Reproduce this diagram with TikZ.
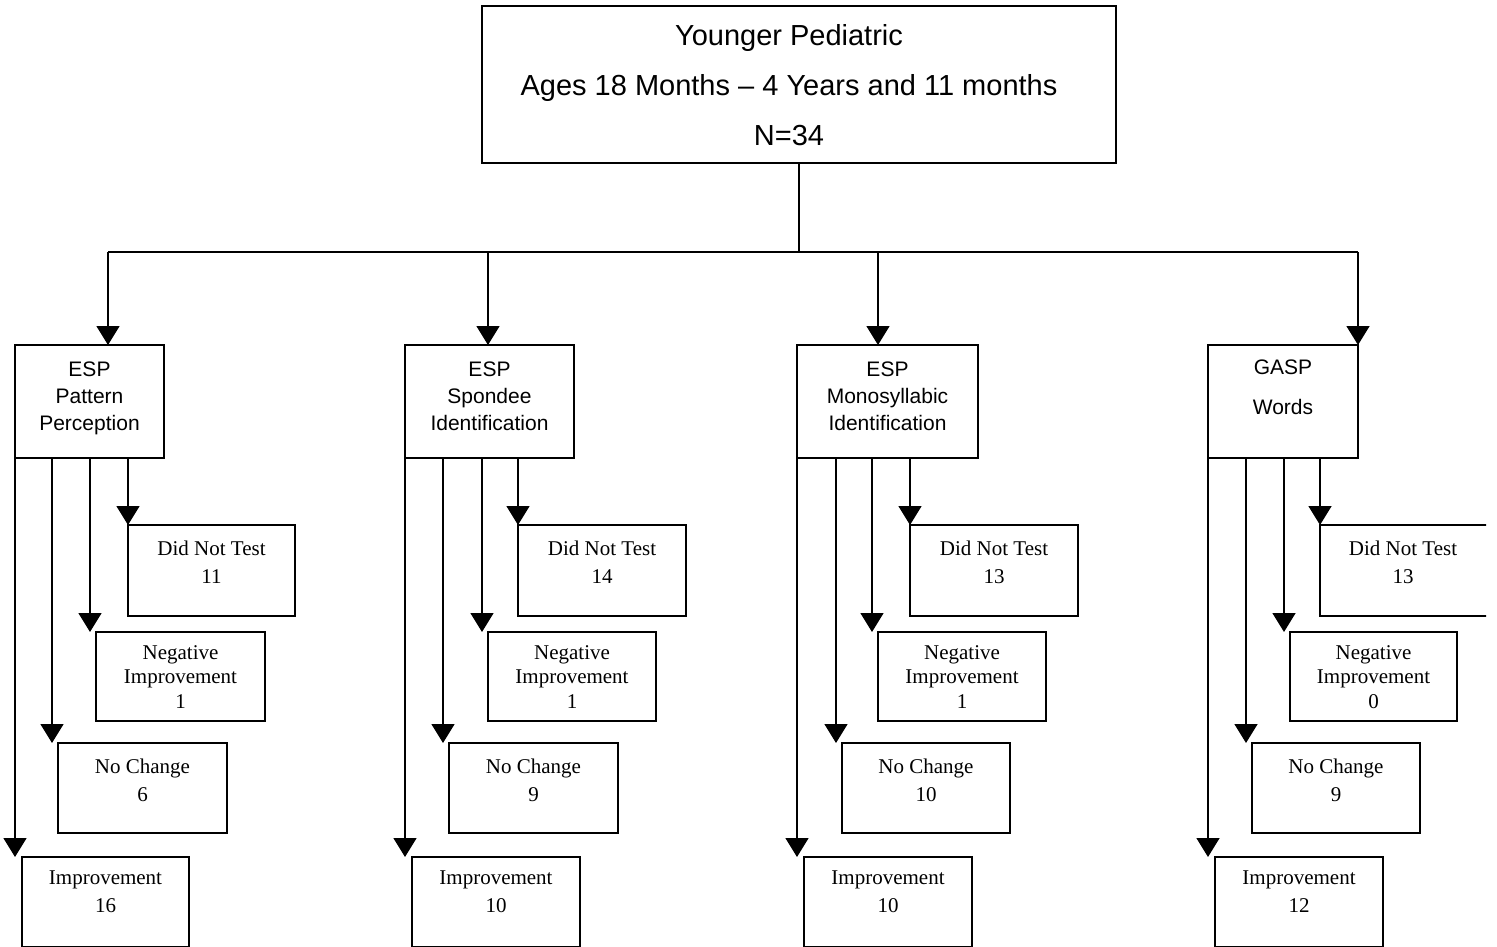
\documentclass[tikz,border=0pt]{standalone}
\usepackage{fontspec}
\setmainfont{Liberation Serif}
\newfontfamily\arialf{Liberation Sans}
\usetikzlibrary{arrows.meta,calc}
\begin{document}
\begin{tikzpicture}[x=1pt,y=-1pt,
  box/.style={draw, line width=1.6pt, inner sep=0pt, outer sep=0pt, anchor=north west},
  arr/.style={line width=1.6pt, -{Triangle[length=19pt 0 0,width=23pt 0 0]}},
  ln/.style={line width=1.6pt},
  tsf/.style={font=\arialf\fontsize{21}{27}\selectfont, align=center, inner sep=0pt, anchor=north},
  ttm/.style={font=\fontsize{21}{28}\selectfont, align=center, inner sep=0pt, anchor=north},
  ttm3/.style={font=\fontsize{21}{24.5}\selectfont, align=center, inner sep=0pt, anchor=north},
]
\useasboundingbox (0,0) rectangle (1497,947);

% top box
\node[box, minimum width=634pt, minimum height=157pt] (top) at (482,6) {};
\node[tsf, font=\arialf\fontsize{29}{50}\selectfont] (toptxt) at ([xshift=-10pt,yshift=-18.6pt]top.north)
  {Younger Pediatric\\Ages 18 Months – 4 Years and 11 months\\N=34};

% middle boxes
\node[box, minimum width=149pt, minimum height=113pt] (m1) at (15,345) {};
\node[box, minimum width=169pt, minimum height=113pt] (m2) at (405,345) {};
\node[box, minimum width=181pt, minimum height=113pt] (m3) at (797,345) {};
\node[box, minimum width=150pt, minimum height=113pt] (m4) at (1208,345) {};
\node[tsf] (m1t) at ([yshift=-16.5pt]m1.north) {ESP\\Pattern\\Perception};
\node[tsf] (m2t) at ([yshift=-16.5pt]m2.north) {ESP\\Spondee\\Identification};
\node[tsf] (m3t) at ([yshift=-16.5pt]m3.north) {ESP\\Monosyllabic\\Identification};
\node[tsf, font=\arialf\fontsize{21}{40}\selectfont] (m4t) at ([yshift=-14.5pt]m4.north) {GASP\\Words};

% bottom boxes, column 1
\node[box, minimum width=167pt, minimum height=91pt] (d1) at (128,525) {};
\node[box, minimum width=169pt, minimum height=89pt] (n1) at (96,632) {};
\node[box, minimum width=169pt, minimum height=90pt] (c1) at (58,743) {};
\node[box, minimum width=167pt, minimum height=90pt] (i1) at (22,857) {};
% column 2
\node[box, minimum width=168pt, minimum height=91pt] (d2) at (518,525) {};
\node[box, minimum width=168pt, minimum height=89pt] (n2) at (488,632) {};
\node[box, minimum width=169pt, minimum height=90pt] (c2) at (449,743) {};
\node[box, minimum width=168pt, minimum height=90pt] (i2) at (412,857) {};
% column 3
\node[box, minimum width=168pt, minimum height=91pt] (d3) at (910,525) {};
\node[box, minimum width=168pt, minimum height=89pt] (n3) at (878,632) {};
\node[box, minimum width=168pt, minimum height=90pt] (c3) at (842,743) {};
\node[box, minimum width=168pt, minimum height=90pt] (i3) at (804,857) {};
% column 4
\begin{scope}
  \clip (0,0) rectangle (1486,947);
  \node[box, minimum width=200pt, minimum height=91pt] (d4) at (1320,525) {};
\end{scope}
\node[box, minimum width=167pt, minimum height=89pt] (n4) at (1290,632) {};
\node[box, minimum width=168pt, minimum height=90pt] (c4) at (1252,743) {};
\node[box, minimum width=168pt, minimum height=90pt] (i4) at (1215,857) {};

% bottom texts
\node[ttm] (d1t) at ([yshift=-16pt]d1.north) {Did Not Test\\11};
\node[ttm3] (n1t) at ([yshift=-13pt]n1.north) {Negative\\Improvement\\1};
\node[ttm] (c1t) at ([yshift=-16pt]c1.north) {No Change\\6};
\node[ttm] (i1t) at ([yshift=-14pt]i1.north) {Improvement\\16};

\node[ttm] (d2t) at ([yshift=-16pt]d2.north) {Did Not Test\\14};
\node[ttm3] (n2t) at ([yshift=-13pt]n2.north) {Negative\\Improvement\\1};
\node[ttm] (c2t) at ([yshift=-16pt]c2.north) {No Change\\9};
\node[ttm] (i2t) at ([yshift=-14pt]i2.north) {Improvement\\10};

\node[ttm] (d3t) at ([yshift=-16pt]d3.north) {Did Not Test\\13};
\node[ttm3] (n3t) at ([yshift=-13pt]n3.north) {Negative\\Improvement\\1};
\node[ttm] (c3t) at ([yshift=-16pt]c3.north) {No Change\\10};
\node[ttm] (i3t) at ([yshift=-14pt]i3.north) {Improvement\\10};

\node[ttm] (d4t) at ([xshift=83pt,yshift=-16pt]d4.north west) {Did Not Test\\13};
\node[ttm3] (n4t) at ([yshift=-13pt]n4.north) {Negative\\Improvement\\0};
\node[ttm] (c4t) at ([yshift=-16pt]c4.north) {No Change\\9};
\node[ttm] (i4t) at ([yshift=-14pt]i4.north) {Improvement\\12};

% trunk connectors
\coordinate (a1) at (108,252);
\coordinate (a2) at (488,252);
\coordinate (a3) at (878,252);
\coordinate (a4) at (1358,252);
\draw[ln] (top.south) -- (top.south |- a1);
\draw[ln] (a1) -- (a4);
\foreach \k in {1,2,3,4}{
  \draw[arr] (a\k) -- (a\k |- m\k.north);
}

% branch connectors
\foreach \k in {1,2,3,4}{
  \draw[arr] (m\k.south west) -- (m\k.south west |- i\k.north);
  \coordinate (cx\k) at ([xshift=-6pt]c\k.north west);
  \draw[arr] (cx\k |- m\k.south) -- (cx\k);
  \coordinate (nx\k) at ([xshift=-6pt]n\k.north west);
  \draw[arr] (nx\k |- m\k.south) -- (nx\k);
  \draw[arr] (d\k.north west |- m\k.south) -- (d\k.north west);
}
\end{tikzpicture}
\end{document}
